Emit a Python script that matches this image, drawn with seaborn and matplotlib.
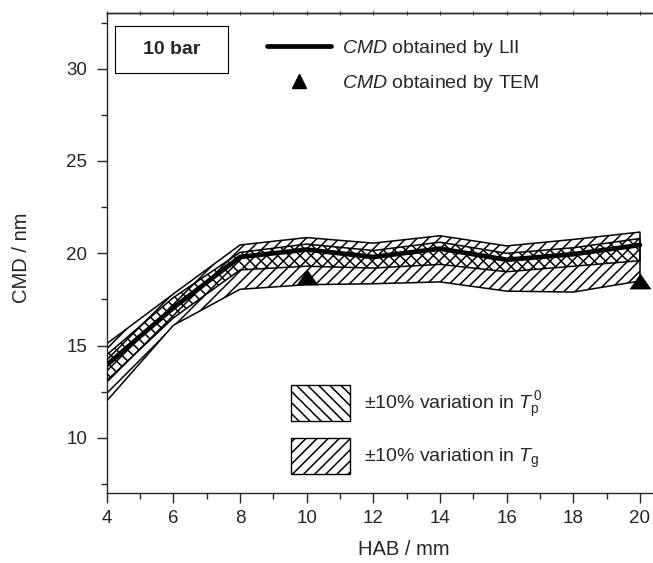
import numpy as np
import pandas as pd
import matplotlib
matplotlib.use("Agg")
import matplotlib.pyplot as plt
from matplotlib.lines import Line2D
from matplotlib.patches import Patch, Rectangle
import seaborn as sns

# ---- data ----
hab = [4, 6, 8, 10, 12, 14, 16, 18, 20]
cmd_lii = [13.95, 17.05, 19.8, 20.2, 19.8, 20.25, 19.65, 19.95, 20.45]
tp_upper = [14.5, 17.6, 20.05, 20.5, 20.15, 20.6, 20.0, 20.3, 20.8]
tp_lower = [13.1, 16.5, 19.1, 19.3, 19.2, 19.4, 19.0, 19.3, 19.6]
tg_upper = [15.1, 17.8, 20.45, 20.85, 20.55, 20.95, 20.4, 20.75, 21.15]
tg_lower = [12.0, 16.1, 18.05, 18.3, 18.35, 18.45, 17.95, 17.9, 18.5]
tem_hab = [10, 20]
tem_cmd = [18.7, 18.5]

x_ticks = [4, 6, 8, 10, 12, 14, 16, 18, 20]
y_ticks = [10, 15, 20, 25, 30]

sns.set_style("ticks")
plt.rcParams["font.family"] = ["Liberation Sans", "DejaVu Sans"]
plt.rcParams["mathtext.fontset"] = "custom"
plt.rcParams["mathtext.rm"] = "Liberation Sans"
plt.rcParams["mathtext.it"] = "Liberation Sans:italic"
plt.rcParams["mathtext.bf"] = "Liberation Sans:bold"
plt.rcParams["hatch.linewidth"] = 1.1

fs_tick = 13.5
fs_leg = 14
fs_lab = 14.5
fig = plt.figure(figsize=(6.53, 5.63), dpi=100)
ax = fig.add_axes([0.1634, 0.1238, 0.8473, 0.8526])

df_lii = pd.DataFrame({"HAB": hab, "CMD": cmd_lii})
df_tem = pd.DataFrame({"HAB": tem_hab, "CMD": tem_cmd})

# T_g band
ax.fill_between(hab, tg_lower, tg_upper, facecolor="white", edgecolor="black",
                hatch="///", linewidth=1.1, zorder=2)
# T_p^0 band
ax.fill_between(hab, tp_lower, tp_upper, facecolor="none", edgecolor="black",
                hatch="\\\\\\", linewidth=1.1, zorder=3)

sns.lineplot(data=df_lii, x="HAB", y="CMD", ax=ax, color="black", linewidth=3.4,
             solid_capstyle="round", zorder=4, legend=False)
tri = [(0, 0.72), (-1, -0.72), (1, -0.72), (0, 0.72)]
sns.scatterplot(data=df_tem, x="HAB", y="CMD", ax=ax, marker=tri, s=250,
                color="black", edgecolor="black", linewidth=0, zorder=5, legend=False)

ax.set_xlim(4, 20.6)
ax.set_ylim(7, 33)
ax.set_xticks(x_ticks)
ax.set_yticks(y_ticks)
ax.set_xticks(np.arange(5, 21, 2), minor=True)
ax.set_yticks([7.5, 12.5, 17.5, 22.5, 27.5, 32.5], minor=True)
ax.tick_params(which="major", direction="out", length=7, width=1.0, labelsize=fs_tick,
               bottom=True, left=True, top=False, right=False)
ax.tick_params(axis="y", which="major", pad=7)
ax.tick_params(axis="x", which="major", pad=5)
ax.tick_params(which="minor", direction="out", length=4, width=1.0,
               bottom=True, left=True, top=False, right=False)
for s in ax.spines.values():
    s.set_linewidth(1.0)
    s.set_visible(True)
# small marks on the top axis
sec = ax.secondary_xaxis("top")
sec.set_xticks(np.arange(4, 21, 1))
sec.tick_params(direction="inout", length=3, width=0.8, labeltop=False)
sec.spines["top"].set_linewidth(1.0)

ax.set_xlabel("HAB / mm", fontsize=fs_lab)
ax.set_ylabel("CMD / nm", fontsize=fs_lab)
ax.xaxis.set_label_coords(0.537, -0.097)
ax.yaxis.set_label_coords(-0.137, 0.49)

# "10 bar" box
ax.add_patch(Rectangle((0.015, 0.8756), 0.204, 0.098, transform=ax.transAxes,
                       facecolor="white", edgecolor="black", linewidth=0.8, zorder=6))
ax.text(0.117, 0.925, "10 bar", transform=ax.transAxes, ha="center", va="center",
        fontsize=fs_leg, fontweight="bold", zorder=7)

# legend 1
h1 = [Line2D([], [], color="black", linewidth=3.4, solid_capstyle="round"),
      Line2D([], [], color="black", marker="^", linestyle="none", markersize=10)]
l1 = [r"$\it{CMD}$ obtained by LII", r"$\it{CMD}$ obtained by TEM"]
leg1 = ax.legend(h1, l1, loc="upper left", bbox_to_anchor=(0.289, 0.948),
                 frameon=False, fontsize=fs_leg, handlelength=3.3, handletextpad=0.6,
                 labelspacing=0.7, borderpad=0, borderaxespad=0)
ax.add_artist(leg1)

# legend 2
h2 = [Patch(facecolor="white", edgecolor="black", hatch="\\\\\\", linewidth=1.0),
      Patch(facecolor="white", edgecolor="black", hatch="///", linewidth=1.0)]
l2 = [r"±10% variation in $T_\mathrm{p}^{\,0}$", r"±10% variation in $T_\mathrm{g}$"]
ax.legend(h2, l2, loc="upper left", bbox_to_anchor=(0.334, 0.2256),
          frameon=False, fontsize=fs_leg, handlelength=3.0, handleheight=2.5,
          handletextpad=0.75, labelspacing=0.85, borderpad=0, borderaxespad=0)

fig.savefig("out.png", dpi=100)
